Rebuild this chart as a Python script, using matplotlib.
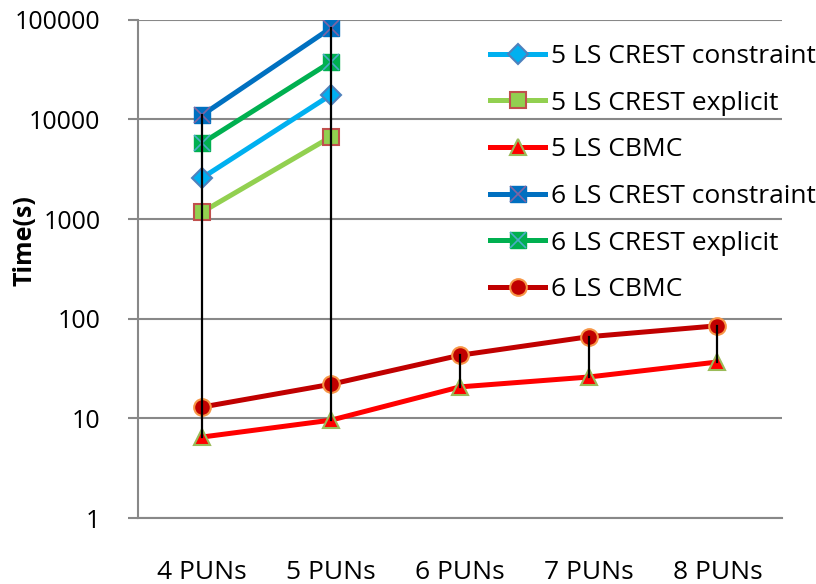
import matplotlib
matplotlib.use("Agg")
import matplotlib.pyplot as plt
from matplotlib.legend_handler import HandlerTuple
import numpy as np

plt.rcParams['font.family'] = ['Open Sans', 'DejaVu Sans']

categories = ["4 PUNs", "5 PUNs", "6 PUNs", "7 PUNs", "8 PUNs"]

ls5_crest_constraint = [2600, 17700]
ls5_crest_explicit = [1180, 6700]
ls5_cbmc = [6.5, 9.6, 20.7, 26, 36.8]
ls6_crest_constraint = [11100, 83000]
ls6_crest_explicit = [5800, 37900]
ls6_cbmc = [13, 22, 43, 66, 85]

fig = plt.figure(figsize=(8.16, 5.84), dpi=100)
ax = fig.add_axes([0.169, 0.113, 0.789, 0.853])

x = np.arange(len(categories))
lw = 3.6
ms = 12

h1, = ax.plot(x[:2], ls5_crest_constraint, color="#00B0F0", lw=lw, marker="D",
              ms=ms * 0.85, mfc="#00B0F0", mec="#4F81BD", mew=1.5)
h2, = ax.plot(x[:2], ls5_crest_explicit, color="#92D050", lw=lw, marker="s",
              ms=ms, mfc="#92D050", mec="#C0504D", mew=1.5)
h3, = ax.plot(x, ls5_cbmc, color="#FF0000", lw=lw, marker="^",
              ms=ms, mfc="#FF0000", mec="#9BBB59", mew=1.5)
h4, = ax.plot(x[:2], ls6_crest_constraint, color="#0070C0", lw=lw, marker="s",
              ms=ms, mfc="#0070C0", mec="#0070C0", mew=1)
h4x, = ax.plot(x[:2], ls6_crest_constraint, ls="none", marker="x",
               ms=ms, mec="#8064A2", mew=1.2)
h5, = ax.plot(x[:2], ls6_crest_explicit, color="#00B050", lw=lw, marker="s",
              ms=ms, mfc="#00B050", mec="#00B050", mew=1)
h5x, = ax.plot(x[:2], ls6_crest_explicit, ls="none", marker="x",
               ms=ms, mec="#4BACC6", mew=1.2)
h6, = ax.plot(x, ls6_cbmc, color="#C00000", lw=lw, marker="o",
              ms=ms, mfc="#C00000", mec="#F79646", mew=1.5)

# high-low lines joining the smallest and largest value in each category
series = [ls5_crest_constraint, ls5_crest_explicit, ls5_cbmc,
          ls6_crest_constraint, ls6_crest_explicit, ls6_cbmc]
for i in x:
    vals = [s[i] for s in series if i < len(s)]
    ax.plot([i, i], [min(vals), max(vals)], color="black", lw=1.6, zorder=5)

ax.set_yscale("log")
ax.set_ylim(1, 100000)
ax.set_xlim(-0.5, len(categories) - 0.5)
ax.set_yticks([1, 10, 100, 1000, 10000, 100000])
ax.set_yticklabels(["1", "10", "100", "1000", "10000", "100000"])
ax.minorticks_off()
ax.set_xticks(x)
ax.set_xticklabels(categories)
ax.tick_params(axis="y", labelsize=18, length=7, width=1.5, color="#888888", pad=20)
ax.tick_params(axis="x", labelsize=19, length=0, pad=30)
ax.yaxis.grid(True, color="#888888", lw=1.5)
ax.set_axisbelow(True)
for side in ["top", "right"]:
    ax.spines[side].set_visible(False)
for side in ["left", "bottom"]:
    ax.spines[side].set_color("#888888")
    ax.spines[side].set_linewidth(1.5)

fig.text(0.031, 1 - 241 / 584, "Time(s)", rotation=90, fontsize=18,
         fontweight="bold", ha="center", va="center")

ax.legend([h1, h2, h3, (h4, h4x), (h5, h5x), h6],
          ["5 LS CREST constraint", "5 LS CREST explicit", "5 LS CBMC",
           "6 LS CREST constraint", "6 LS CREST explicit", "6 LS CBMC"],
          handler_map={tuple: HandlerTuple(ndivide=1)},
          loc="upper left", bbox_to_anchor=(490 / 816, 1 - 44 / 584),
          bbox_transform=fig.transFigure, frameon=False, fontsize=19,
          handlelength=2.1, handletextpad=0.2, labelspacing=0.82,
          borderaxespad=0, borderpad=0)

fig.savefig("out.png", dpi=100)
